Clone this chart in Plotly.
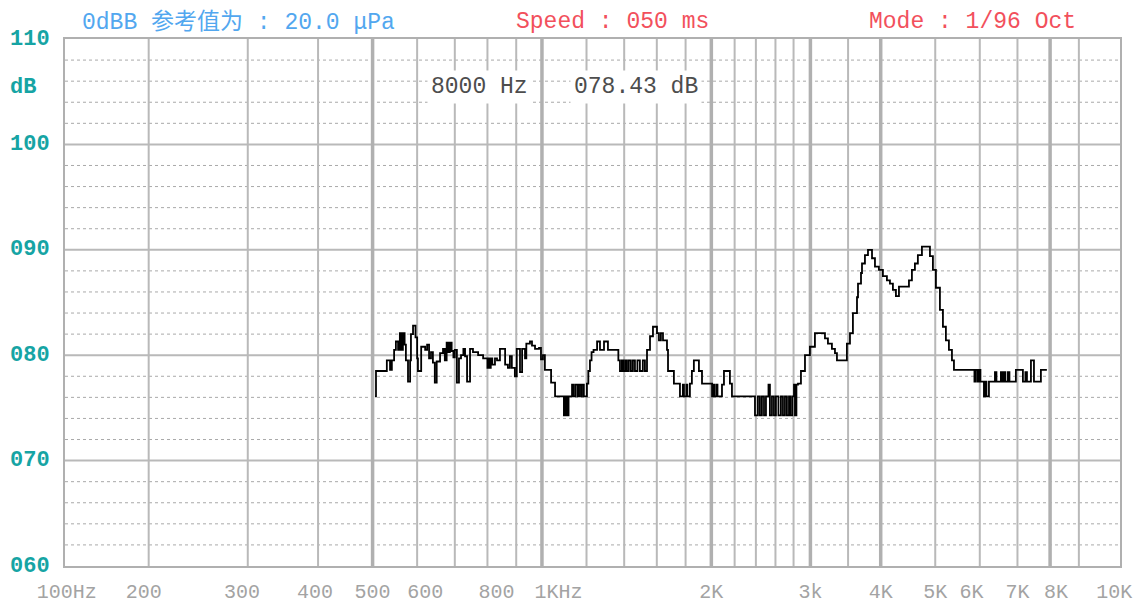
import math
import plotly.graph_objects as go

# ---------------- data ----------------
freq_hz = [
    505, 507, 530, 537, 541, 546, 550, 555, 559, 563,
    566, 570, 573, 578, 583, 585, 590, 596, 600, 602,
    610, 620, 625, 630, 635, 640, 645, 650, 659, 667,
    672, 677, 681, 686, 691, 696, 700, 706, 712, 718,
    725, 730, 736, 745, 754, 770, 786, 800, 805, 808,
    811, 816, 825, 832, 842, 860, 870, 877, 884, 895,
    902, 914, 922, 933, 938, 952, 960, 972, 988, 996,
    1004, 1012, 1038, 1055, 1094, 1101, 1108, 1115, 1131, 1138,
    1147, 1157, 1164, 1173, 1178, 1187, 1202, 1209, 1217, 1225,
    1235, 1253, 1268, 1289, 1310, 1367, 1376, 1387, 1396, 1407,
    1416, 1427, 1439, 1451, 1463, 1478, 1493, 1511, 1524, 1537,
    1556, 1575, 1601, 1614, 1627, 1641, 1668, 1675, 1716, 1759,
    1780, 1788, 1806, 1813, 1832, 1847, 1862, 1901, 1925, 2006,
    2018, 2026, 2043, 2051, 2089, 2106, 2158, 2176, 2391, 2420,
    2440, 2460, 2481, 2501, 2527, 2542, 2563, 2584, 2605, 2632,
    2659, 2681, 2703, 2725, 2748, 2765, 2787, 2805, 2816, 2833,
    2851, 2886, 2934, 2994, 3056, 3184, 3223, 3276, 3317, 3344,
    3483, 3527, 3570, 3630, 3645, 3690, 3705, 3750, 3797, 3860,
    3907, 3970, 4036, 4103, 4154, 4205, 4257, 4310, 4490, 4545,
    4601, 4657, 4735, 4893, 4953, 5014, 5097, 5160, 5223, 5288,
    5354, 5398, 5870, 5906, 5954, 5979, 6016, 6103, 6140, 6165,
    6229, 6384, 6423, 6542, 6582, 6623, 6663, 6732, 6774, 6955,
    7158, 7232, 7277, 7397, 7489, 7705, 7896,
]
level_db = [
    76.1, 78.5, 79.5, 78.6, 79.5, 80.5, 81.3, 80.5, 82.1, 80.5,
    82.1, 81.0, 79.5, 77.5, 79.5, 82.0, 82.8, 81.7, 79.7, 78.5,
    80.8, 80.5, 81.0, 79.7, 80.3, 79.3, 77.4, 79.4, 80.2, 80.6,
    79.5, 81.2, 80.3, 81.2, 80.4, 79.8, 80.5, 77.4, 79.7, 80.0,
    80.6, 79.9, 77.5, 80.6, 80.3, 80.0, 79.7, 78.8, 79.7, 78.8,
    79.7, 79.1, 79.7, 79.5, 80.6, 79.1, 78.8, 79.9, 78.8, 78.0,
    80.6, 78.4, 80.6, 79.7, 81.1, 81.3, 80.9, 80.6, 80.7, 79.6,
    80.0, 78.6, 77.4, 76.1, 74.3, 76.1, 74.3, 76.1, 77.2, 76.1,
    77.2, 76.1, 77.2, 76.1, 77.2, 76.1, 77.3, 78.5, 79.5, 80.3,
    80.5, 81.3, 80.5, 81.3, 80.5, 79.5, 78.5, 79.5, 78.5, 79.5,
    78.5, 79.5, 78.5, 79.5, 78.5, 79.5, 78.5, 79.5, 78.5, 80.5,
    81.8, 82.7, 82.1, 81.4, 82.1, 81.4, 80.5, 78.5, 77.3, 76.1,
    77.2, 76.1, 77.2, 76.1, 77.3, 78.5, 79.5, 78.5, 77.3, 76.1,
    77.2, 76.1, 77.2, 76.1, 77.2, 78.5, 77.3, 76.1, 74.3, 76.1,
    74.3, 76.1, 74.3, 76.1, 77.2, 74.3, 76.1, 74.3, 76.1, 74.3,
    76.1, 74.3, 76.1, 74.3, 76.1, 74.3, 76.1, 77.2, 74.3, 77.2,
    77.3, 78.5, 80.0, 80.8, 82.1, 81.6, 81.1, 80.6, 80.2, 79.5,
    81.1, 82.1, 84.0, 85.5, 86.8, 87.8, 88.7, 89.5, 90.0, 89.2,
    88.4, 88.1, 87.5, 87.1, 86.8, 86.2, 85.6, 86.5, 87.1, 88.1,
    88.7, 89.5, 90.3, 89.4, 88.1, 86.4, 84.3, 82.7, 81.4, 80.5,
    79.5, 78.6, 77.5, 78.6, 77.5, 78.6, 77.5, 76.1, 77.5, 76.1,
    77.5, 78.4, 77.5, 78.4, 77.5, 78.4, 77.5, 78.4, 77.5, 78.6,
    77.5, 78.4, 77.5, 79.5, 77.5, 78.6, 78.6,
]

x_tick_freqs = [143, 196, 293, 395, 500, 620, 830, 1070, 2000, 3000,
                4000, 5000, 5800, 7000, 8200, 10400]
x_tick_labels = ["100Hz", "200", "300", "400", "500", "600", "800", "1KHz",
                 "2K", "3k", "4K", "5K", "6K", "7K", "8K", "10K"]
grid_freqs = [200, 300, 400, 600, 700, 800, 900, 1200, 1400, 1600, 1800,
              2200, 2400, 2600, 2800, 3500, 5000, 6000, 7000, 9000]
major_grid_freqs = [500, 1000, 2000, 3000, 4000, 8000]
y_tick_vals = [110, 105.4, 100, 90, 80, 70, 60]
y_tick_labels = ["110", "dB", "100", "090", "080", "070", "060"]
solid_db = [70, 80, 90, 100]
dashed_db = [v for v in range(62, 110, 2) if v % 10 != 0]

readout_freq_text = "8000 Hz"
readout_level_text = "078.43 dB"

X_MIN, X_MAX = 142, 10650
Y_MIN, Y_MAX = 60, 110

GRID = "#b9b9b9"
MONO = "Liberation Mono, DejaVu Sans Mono, monospace"

fig = go.Figure()


def vlines(freqs):
    xs, ys = [], []
    for f in freqs:
        xs += [f, f, None]
        ys += [Y_MIN, Y_MAX, None]
    return xs, ys


def hlines(levels):
    xs, ys = [], []
    for v in levels:
        xs += [X_MIN, X_MAX, None]
        ys += [v, v, None]
    return xs, ys


xs, ys = hlines(dashed_db)
fig.add_trace(go.Scatter(x=xs, y=ys, mode="lines", hoverinfo="skip",
                         line=dict(color="#a9a9a9", width=1, dash="3px,3px")))
xs, ys = hlines(solid_db)
fig.add_trace(go.Scatter(x=xs, y=ys, mode="lines", hoverinfo="skip",
                         line=dict(color=GRID, width=2)))
xs, ys = vlines(grid_freqs)
fig.add_trace(go.Scatter(x=xs, y=ys, mode="lines", hoverinfo="skip",
                         line=dict(color=GRID, width=2)))
xs, ys = vlines(major_grid_freqs)
fig.add_trace(go.Scatter(x=xs, y=ys, mode="lines", hoverinfo="skip",
                         line=dict(color="#b0b0b0", width=3.5)))

fig.add_trace(go.Scatter(x=freq_hz, y=level_db, mode="lines",
                         line=dict(color="#000000", width=1.8, shape="hv"),
                         hoverinfo="x+y"))

annotations = []
for v, t in zip(y_tick_vals, y_tick_labels):
    annotations.append(dict(
        xref="paper", yref="y", x=-0.054, y=v, xanchor="left", yanchor="middle",
        text="<b>%s</b>" % t, showarrow=False,
        font=dict(family=MONO, size=22, color="#16a4a4")))

header_font = dict(family=MONO + ", Noto Sans CJK SC", size=23)
annotations += [
    dict(xref="paper", yref="paper", x=0.014, y=1, xanchor="left", yanchor="middle",
         yshift=17, showarrow=False, text="0dBB 参考值为 : 20.0 μPa",
         font=dict(header_font, color="#52a7ef")),
    dict(xref="paper", yref="paper", x=0.4256, y=1, xanchor="left", yanchor="middle",
         yshift=17, showarrow=False, text="Speed : 050 ms",
         font=dict(header_font, color="#f2505c")),
    dict(xref="paper", yref="paper", x=0.760, y=1, xanchor="left", yanchor="middle",
         yshift=17, showarrow=False, text="Mode : 1/96 Oct",
         font=dict(header_font, color="#f2505c")),
    dict(xref="x", yref="y", x=math.log10(773), y=105.45, xanchor="center",
         yanchor="middle", showarrow=False, text=readout_freq_text,
         bgcolor="#ffffff", borderpad=3,
         font=dict(family=MONO, size=23, color="#4d4d4d")),
    dict(xref="x", yref="y", x=math.log10(1469), y=105.45, xanchor="center",
         yanchor="middle", showarrow=False, text=readout_level_text,
         bgcolor="#ffffff", borderpad=3,
         font=dict(family=MONO, size=23, color="#4d4d4d")),
]

fig.update_layout(
    width=1144, height=609,
    margin=dict(l=65, r=24, t=39, b=43, autoexpand=False),
    paper_bgcolor="#ffffff", plot_bgcolor="#ffffff",
    showlegend=False,
    annotations=annotations,
    xaxis=dict(type="log", range=[math.log10(X_MIN), math.log10(X_MAX)],
               showgrid=False, zeroline=False, automargin=False,
               showline=True, mirror=True, linecolor="#b0b0b0", linewidth=2,
               tickvals=x_tick_freqs, ticktext=x_tick_labels, ticks="",
               ticklabelstandoff=6,
               tickfont=dict(family=MONO, size=20, color="#a3a3a3")),
    yaxis=dict(range=[Y_MIN, Y_MAX], showgrid=False, zeroline=False,
               automargin=False,
               showline=True, mirror=True, linecolor="#b0b0b0", linewidth=2,
               showticklabels=False, ticks=""),
)

fig.write_html("out.html", config={"displayModeBar": False},
               post_script="document.body.style.margin='0';")
